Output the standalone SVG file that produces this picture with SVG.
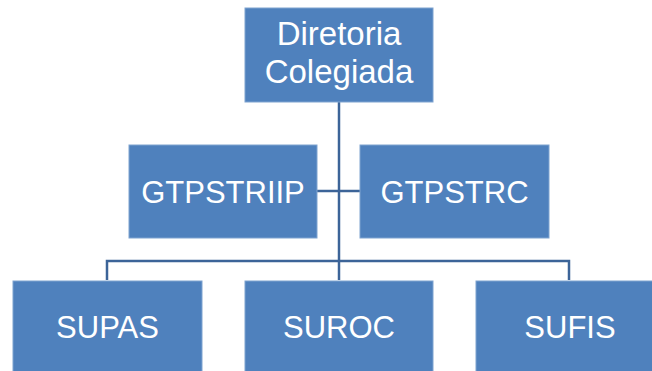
<svg xmlns="http://www.w3.org/2000/svg" width="652" height="371" viewBox="0 0 652 371">
<style>
.box{fill:#4F81BD;stroke:#7FA3D0;stroke-width:1}
.lbl{fill:#FFFFFF;font-family:"Liberation Sans",Arial,sans-serif;font-size:31px;text-anchor:middle}
.top{font-size:33px}
.conn{fill:none;stroke:#3C6498;stroke-width:2.5}
</style>
<rect width="652" height="371" fill="#FFFFFF"/>
<g id="connectors">
<path class="conn" d="M339,102 V261"/>
<path class="conn" d="M317,191 H360"/>
<path class="conn" d="M107,280 V261 H569 V280"/>
<path class="conn" d="M339,261 V280"/>
</g>
<g id="diretoria">
<rect class="box" x="245" y="8" width="188" height="94"/>
<text class="lbl top" x="339" y="45">Diretoria</text>
<text class="lbl top" x="339" y="83">Colegiada</text>
</g>
<g id="gtpstriip">
<rect class="box" x="129" y="145" width="188" height="93"/>
<text class="lbl" x="223" y="203">GTPSTRIIP</text>
</g>
<g id="gtpstrc">
<rect class="box" x="360" y="145" width="189" height="93"/>
<text class="lbl" x="454.5" y="203">GTPSTRC</text>
</g>
<g id="supas">
<rect class="box" x="13" y="281" width="189" height="94"/>
<text class="lbl" x="107.5" y="338">SUPAS</text>
</g>
<g id="suroc">
<rect class="box" x="245" y="281" width="188" height="94"/>
<text class="lbl" x="339" y="338">SUROC</text>
</g>
<g id="sufis">
<rect class="box" x="476" y="281" width="188" height="94"/>
<text class="lbl" x="570" y="338">SUFIS</text>
</g>
</svg>
